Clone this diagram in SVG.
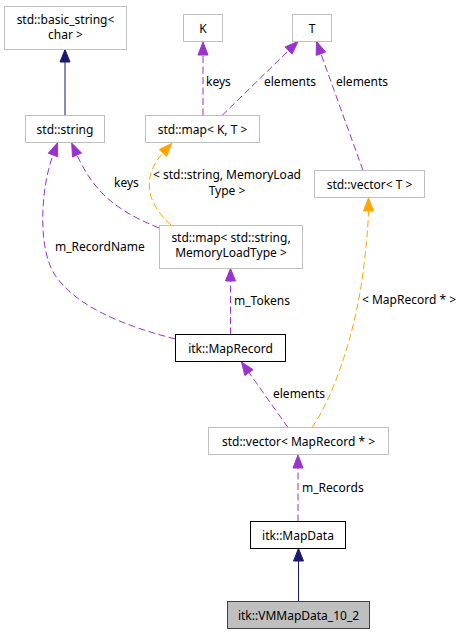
<svg xmlns="http://www.w3.org/2000/svg" width="465" height="635" viewBox="0 0 465 635">
<style>
text{font-family:"Noto Sans","DejaVu Sans",sans-serif;font-size:12px;fill:#000}
.n text{text-anchor:middle}
.ext{fill:#fff;stroke:#bfbfbf;stroke-width:1}
.doc{fill:#fff;stroke:#000;stroke-width:1}
.cur{fill:#bfbfbf;stroke:#404040;stroke-width:1}
.inh{fill:none;stroke:#191970;stroke-width:1}
.inhh{fill:#191970;stroke:#191970}
.use{fill:none;stroke:#9a32cd;stroke-width:1;stroke-dasharray:7,3.5}
.useh{fill:#9a32cd;stroke:#9a32cd}
.tpl{fill:none;stroke:#ffa500;stroke-width:1;stroke-dasharray:7,3.5}
.tplh{fill:#ffa500;stroke:#ffa500}
</style>
<g id="edges">
  <path class="inh" d="M65,115.5 L65,62"/>
  <polygon class="inhh" points="60,62 65,49.5 70,62"/>

  <path class="use" d="M203,115.5 L203,55"/>
  <polygon class="useh" points="198,55 203,42 208,55"/>
  <text x="206" y="86">keys</text>

  <path class="use" d="M222,115.5 L288.6,50.5"/>
  <polygon class="useh" points="292.1,54.1 298,41.5 285.1,46.9"/>
  <text x="264" y="86">elements</text>

  <path class="use" d="M363,170.5 L320.9,53.7"/>
  <polygon class="useh" points="325.6,52 316.5,41.5 316.2,55.4"/>
  <text x="336" y="86">elements</text>

  <path class="use" d="M175.5,339 C120,325 75,305 55,275 C38,250 40,190 53,155"/>
  <polygon class="useh" points="57.7,156.7 57.5,142.8 48.3,153.3"/>
  <text x="55" y="251">m_RecordName</text>

  <path class="use" d="M159,228 C120,212 95,195 77,155"/>
  <polygon class="useh" points="81.5,153 71.7,143.1 72.5,157"/>
  <text x="114" y="187">keys</text>

  <path class="tpl" d="M171,225 C148,205 140,178 163,153"/>
  <polygon class="tplh" points="166.7,156.4 171.8,143.4 159.3,149.6"/>
  <text x="227" y="179" text-anchor="middle">&lt; std::string, MemoryLoad</text>
  <text x="227" y="195" text-anchor="middle">Type &gt;</text>

  <path class="tpl" d="M312,427.5 C335,395 355,330 362,280 C366,250 368,230 368.5,211"/>
  <polygon class="tplh" points="363.5,211 368.5,198 373.5,211"/>
  <text x="362" y="304">&lt; MapRecord * &gt;</text>

  <path class="use" d="M288,427.5 L249,372.6"/>
  <polygon class="useh" points="253.1,369.7 241.5,362 244.9,375.5"/>
  <text x="273" y="398">elements</text>

  <path class="use" d="M230.5,334.5 L230.5,281"/>
  <polygon class="useh" points="225.5,281 230.5,268.5 235.5,281"/>
  <text x="234" y="305">m_Tokens</text>

  <path class="use" d="M298,521.5 L298,468"/>
  <polygon class="useh" points="293,468 298,455 303,468"/>
  <text x="302" y="492">m_Records</text>

  <path class="inh" d="M298.5,601 L298.5,561"/>
  <polygon class="inhh" points="293.5,561 298.5,548.5 303.5,561"/>
</g>
<g id="basic_string" class="n">
  <rect class="ext" x="4.5" y="6.5" width="122" height="43"/>
  <text x="65.5" y="24">std::basic_string&lt;</text>
  <text x="65.5" y="39">char &gt;</text>
</g>
<g id="K" class="n">
  <rect class="ext" x="183.5" y="14.5" width="39" height="27"/>
  <text x="203" y="32.5">K</text>
</g>
<g id="T" class="n">
  <rect class="ext" x="292.5" y="14.5" width="39" height="27"/>
  <text x="312" y="32.5">T</text>
</g>
<g id="std_string" class="n">
  <rect class="ext" x="25.5" y="115.5" width="79" height="27"/>
  <text x="65" y="133.5">std::string</text>
</g>
<g id="map_KT" class="n">
  <rect class="ext" x="145.5" y="115.5" width="114" height="27"/>
  <text x="202.5" y="133.5">std::map&lt; K, T &gt;</text>
</g>
<g id="vector_T" class="n">
  <rect class="ext" x="314.5" y="170.5" width="110" height="27"/>
  <text x="369.5" y="188.5">std::vector&lt; T &gt;</text>
</g>
<g id="map_string_mlt" class="n">
  <rect class="ext" x="159.5" y="225.5" width="143" height="43"/>
  <text x="231" y="242">std::map&lt; std::string,</text>
  <text x="231" y="257">MemoryLoadType &gt;</text>
</g>
<g id="MapRecord" class="n">
  <rect class="doc" x="175.5" y="334.5" width="110" height="27"/>
  <text x="230.5" y="352.5">itk::MapRecord</text>
</g>
<g id="vector_MapRecord" class="n">
  <rect class="ext" x="208.5" y="427.5" width="180" height="27"/>
  <text x="298.5" y="445.5">std::vector&lt; MapRecord * &gt;</text>
</g>
<g id="MapData" class="n">
  <rect class="doc" x="250.5" y="521.5" width="95" height="27"/>
  <text x="298" y="539.5">itk::MapData</text>
</g>
<g id="VMMapData_10_2" class="n">
  <rect class="cur" x="227.5" y="601.5" width="142" height="27"/>
  <text x="298.5" y="619.5">itk::VMMapData_10_2</text>
</g>
</svg>
